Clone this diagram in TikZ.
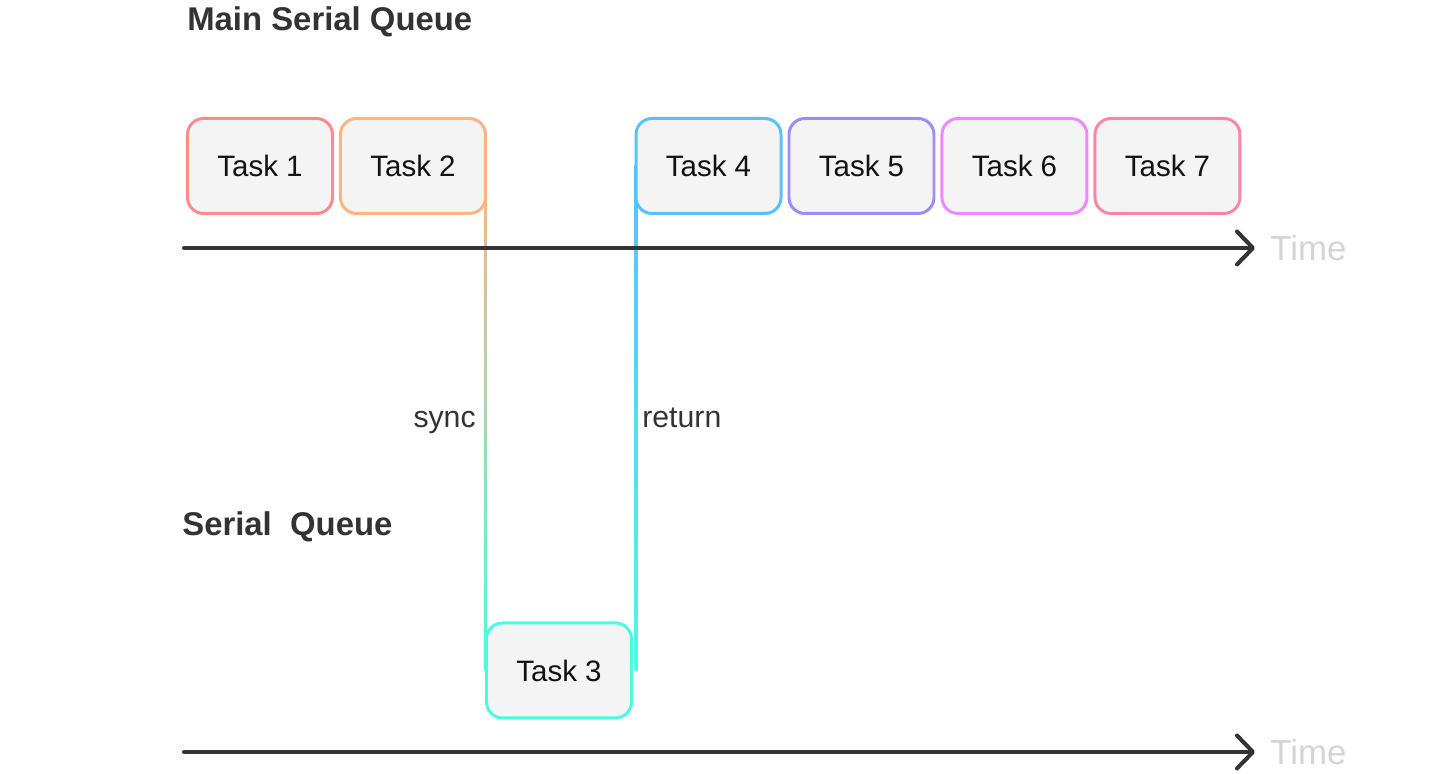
\documentclass[tikz,border=0pt]{standalone}
\usepackage{fontspec}
\setmainfont{Liberation Sans}
\usetikzlibrary{arrows.meta, positioning, calc, backgrounds}
\definecolor{task_one}{HTML}{FF8A8A}
\definecolor{task_two}{HTML}{FFB382}
\definecolor{task_three}{HTML}{4DFADF}
\definecolor{task_four}{HTML}{5BBEFF}
\definecolor{task_five}{HTML}{A08AFF}
\definecolor{task_six}{HTML}{EE88FF}
\definecolor{task_seven}{HTML}{FF85A6}
\definecolor{box_fill}{HTML}{F4F4F4}
\definecolor{axis_gray}{HTML}{333333}
\definecolor{label_gray}{HTML}{333333}
\definecolor{time_gray}{HTML}{D4D4D4}
\tikzset{
  task_box/.style={rectangle, draw=#1, fill=box_fill, line width=1.7pt, rounded corners=3.2mm, minimum width=2.9cm, minimum height=1.9cm, font=\fontsize{16.8}{20}\selectfont, text=black!93},
  axis_style/.style={-{Straight Barb[length=3.2mm, width=6.6mm, round]}, line width=2.3pt, draw=axis_gray, line cap=round},
  time_label/.style={font=\fontsize{19.8}{23}\selectfont, text=time_gray, inner sep=0pt},
  queue_title/.style={font=\fontsize{18.7}{22}\selectfont\bfseries, text=label_gray, inner sep=0pt, anchor=west},
  call_label/.style={font=\fontsize{17.2}{20}\selectfont, text=label_gray, inner sep=0pt}
}

\begin{document}
\begin{tikzpicture}
  \useasboundingbox (0,0) rectangle (28.8,15.48);

  % --- 1. Queue titles ---
  \node[queue_title] (main_title) at (3.74,15.04) {Main Serial Queue};
  \node[queue_title] (serial_title) at (3.64,4.94) {Serial\ \ Queue};

  % --- 2. Time axes ---
  \coordinate (MainStart) at (3.68,10.52);
  \coordinate (MainEnd) at (25.1,10.52);
  \coordinate (SerialStart) at (3.68,0.44);
  \coordinate (SerialEnd) at (25.1,0.44);
  \draw[axis_style] (MainStart) -- (MainEnd);
  \draw[axis_style] (SerialStart) -- (SerialEnd);
  \node[time_label, right=0.3cm of MainEnd] (main_time) {Time};
  \node[time_label, right=0.3cm of SerialEnd] (serial_time) {Time};

  % --- 3. Tasks (main queue and serial queue) ---
  \node[task_box=task_one] (t1) at (5.2,12.16) {Task 1};
  \node[task_box=task_two, right=0.1cm of t1] (t2) {Task 2};
  \node[task_box=task_three] (t3) at (11.18,2.07) {Task 3};
  \node[task_box=task_four] (t4) at (14.17,12.16) {Task 4};
  \node[task_box=task_five, right=0.1cm of t4] (t5) {Task 5};
  \node[task_box=task_six, right=0.1cm of t5] (t6) {Task 6};
  \node[task_box=task_seven, right=0.1cm of t6] (t7) {Task 7};

  % --- 4. sync / return connectors (behind the boxes) ---
  \begin{scope}[on background layer]
    \shade[top color=task_two, bottom color=task_three]
      ($(t2.east)+(-0.06,0)$) rectangle (t2.east |- t3.west);
    \shade[top color=task_four, middle color=task_four!70!task_three, bottom color=task_three]
      ($(t4.west)+(0.06,0)$) rectangle (t4.west |- t3.east);
  \end{scope}

  \node[call_label, anchor=base east] (sync_label) at (9.52,6.92) {sync};
  \node[call_label, anchor=base west] (return_label) at (12.84,6.92) {return};
\end{tikzpicture}
\end{document}
